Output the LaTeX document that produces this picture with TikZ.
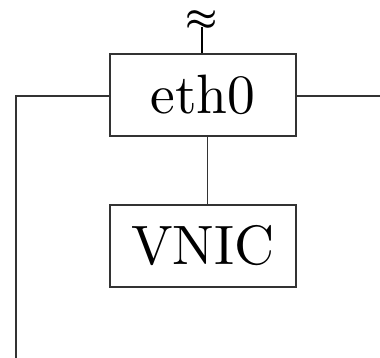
\RequirePackage{fix-cm}
\documentclass[tikz,border=0pt]{standalone}
\usepackage{amsmath}
\usepackage{fontspec}
\setmainfont{lmroman10-regular}[Extension=.otf]
\begin{document}
\begin{tikzpicture}[x=1pt,y=-1pt,
  wire/.style={draw=black!80,line width=1.1pt},
  boxnode/.style={draw=black!80,line width=1.2pt,minimum width=186pt,minimum height=82pt,
    inner sep=0pt,font=\fontsize{55.5}{60}\selectfont}]
\useasboundingbox (0,0) rectangle (380,358);
\node[boxnode] (eth) at (203,95) {eth0};
\node[boxnode] (vnic) at (203,246) {VNIC};
\node[inner sep=0pt,font=\fontsize{36}{40}\selectfont] (wave) at (202,21) {$\boldsymbol{\approx}$};
\coordinate (lt) at (16,96);
\coordinate (lb) at (16,358);
\coordinate (rt) at (380,96);
\coordinate (ant) at (202,27);
% uplink to the antenna
\draw[draw=black,line width=1.8pt] (eth.north -| ant) -- (ant);
% side links
\draw[wire] (eth.west |- lt) -- (lt) -- (lb);
\draw[wire] (eth.east |- rt) -- (rt);
% link down to the virtual NIC
\draw[wire,line width=0.9pt] ([xshift=4pt]eth.south) -- ([xshift=4pt]vnic.north);
\end{tikzpicture}
\end{document}
